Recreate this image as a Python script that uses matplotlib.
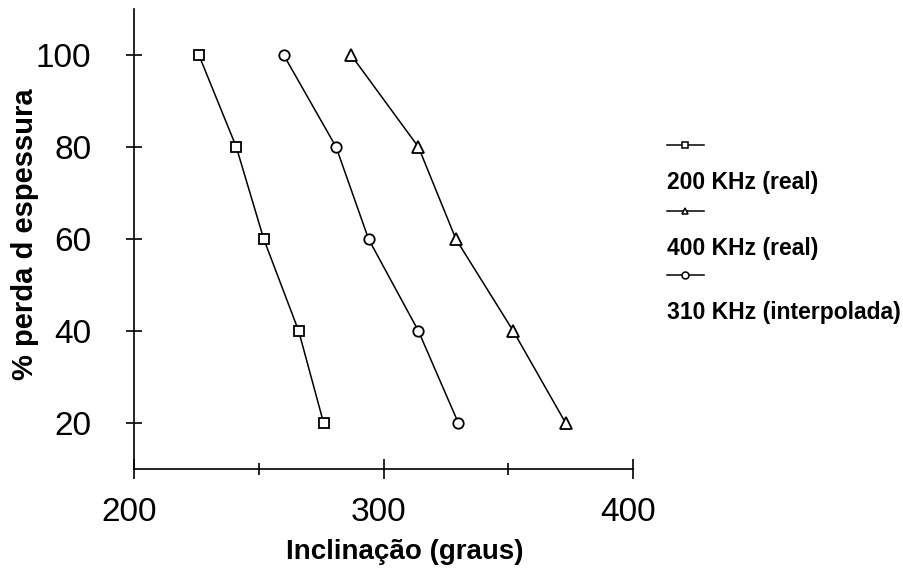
import numpy as np
import matplotlib
matplotlib.use('Agg')
import matplotlib.pyplot as plt
import matplotlib.transforms as mtransforms
from matplotlib.lines import Line2D

# dados
perda = [100, 80, 60, 40, 20]
incl_200 = [226, 241, 252, 266, 276]
incl_400 = [287, 314, 329, 352, 373]
incl_310 = [260, 281, 294, 314, 330]

nomes = ['200 KHz (real)', '400 KHz (real)', '310 KHz (interpolada)']
marcas = ['s', '^', 'o']
tamanhos = [7.5, 9, 7.5]

xticks = [200, 300, 400]
xminor = [250, 350]
yticks = [20, 40, 60, 80, 100]

plt.rcParams['font.family'] = ['Liberation Sans', 'DejaVu Sans']

W, H = 904, 580


def plot():
    fig = plt.figure(figsize=(W / 100, H / 100), dpi=100)
    fig.patch.set_facecolor('white')
    ax = fig.add_axes([134 / W, 111 / H, 499 / W, 460 / H])

    series = [incl_200, incl_400, incl_310]
    for vals, m, ms in zip(series, marcas, tamanhos):
        ax.plot(vals, perda, color='black', lw=1.1, marker=m, ms=ms,
                mfc='white', mec='black', mew=1.3)

    ax.set_xlim(200, 400)
    ax.set_ylim(10, 110)
    ax.spines['top'].set_visible(False)
    ax.spines['right'].set_visible(False)
    ax.spines['left'].set_linewidth(1.2)
    ax.spines['bottom'].set_linewidth(1.2)

    ax.set_xticks(xticks)
    ax.set_xticks(xminor, minor=True)
    ax.set_yticks(yticks)
    ax.tick_params(axis='x', which='major', direction='inout', length=14,
                   width=1.2, pad=13, labelsize=24)
    ax.tick_params(axis='x', which='minor', direction='inout', length=8,
                   width=1.2)
    ax.tick_params(axis='y', direction='inout', length=11.5, width=1.2,
                   pad=25, labelsize=24)

    # rotulos do eixo x um pouco para a esquerda, como no original
    desloc = mtransforms.ScaledTranslation(-5 / 100, 0, fig.dpi_scale_trans)
    for lab in ax.get_xticklabels():
        lab.set_transform(lab.get_transform() + desloc)

    ax.set_xlabel('Inclinação (graus)', fontsize=20, fontweight='bold')
    ax.xaxis.set_label_coords(0.543, -0.152)
    ax.set_ylabel('% perda d espessura', fontsize=21, fontweight='bold')
    ax.yaxis.set_label_coords(-0.19, 0.511)

    # legenda feita a mao: linha numa linha, texto na linha de baixo
    linha_y = [145, 211, 275]
    texto_y = [183, 248, 312]
    x0, x1 = 667, 704
    for i in range(3):
        yy = 1 - linha_y[i] / H
        ln = Line2D([x0 / W, (x0 + x1) / 2 / W, x1 / W], [yy, yy, yy],
                    transform=fig.transFigure, color='black', lw=1.1,
                    marker=marcas[i], markevery=[1], ms=5, mfc='white',
                    mec='black', mew=1.1)
        fig.add_artist(ln)
        fig.text(x0 / W, 1 - texto_y[i] / H, nomes[i], fontsize=16.5,
                 fontweight='bold', va='center', ha='left')

    plt.savefig('out.png', dpi=100)


plot()
